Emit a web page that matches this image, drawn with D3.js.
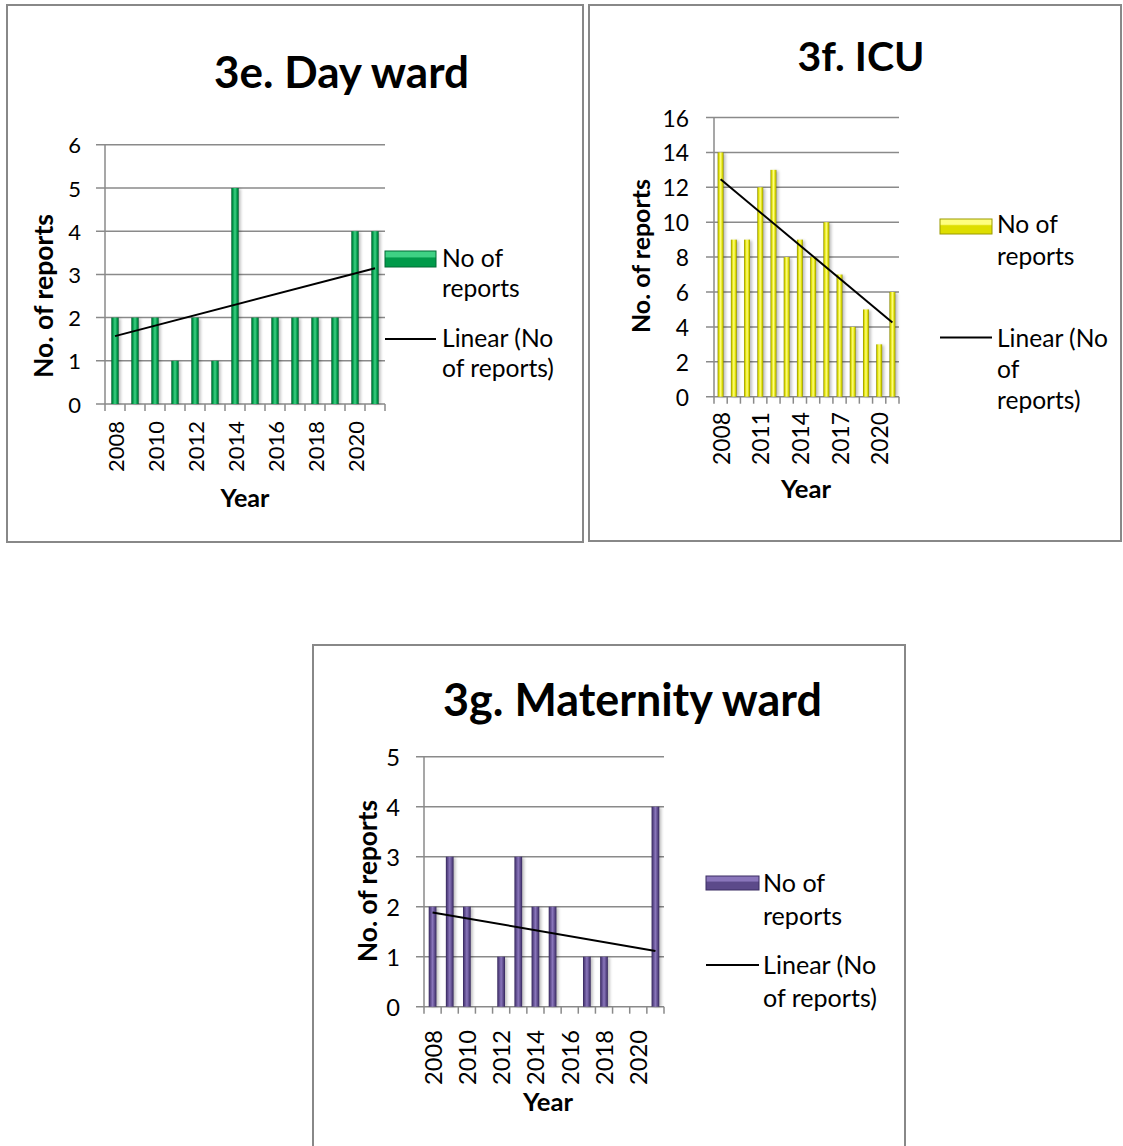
<!DOCTYPE html>
<html><head><meta charset="utf-8">
<script src="https://cdn.jsdelivr.net/npm/d3@7"></script>
<style>body{margin:0;background:#fff} svg{display:block}</style>
</head><body>
<script>
// ---------------- DATA ----------------
const years = ["2008","2009","2010","2011","2012","2013","2014","2015","2016","2017","2018","2019","2020","2021"];
const dayWardReports   = [2,2,2,1,2,1,5,2,2,2,2,2,4,4];
const icuReports       = [14,9,9,12,13,8,9,8,10,7,4,5,3,6];
const maternityReports = [2,3,2,0,1,3,2,2,0,1,1,0,0,4];

const dayWardYTicks   = [0,1,2,3,4,5,6];
const icuYTicks       = [0,2,4,6,8,10,12,14,16];
const maternityYTicks = [0,1,2,3,4,5];

const dayWardXTickLabels   = ["2008","2010","2012","2014","2016","2018","2020"];
const icuXTickLabels       = ["2008","2011","2014","2017","2020"];
const maternityXTickLabels = ["2008","2010","2012","2014","2016","2018","2020"];

const chartTitles = ["3e. Day ward","3f. ICU","3g. Maternity ward"];
const yAxisTitle = "No. of reports";
const xAxisTitle = "Year";
const barLegendLines = ["No of","reports"];
const lineLegendLinesWide = ["Linear (No","of reports)"];
const lineLegendLinesNarrow = ["Linear (No","of","reports)"];

// ---------------- LAYOUT ----------------
const FONT = "Lato, 'Open Sans', sans-serif";
const charts = [
  {
    id:"e", titleText:chartTitles[0], values:dayWardReports, yTicks:dayWardYTicks, xLabels:dayWardXTickLabels,
    panel:{x:7,y:5,w:576,h:537},
    plot:{left:105,right:385,top:144.8,bottom:404,gridLeft:96},
    barFrac:0.37,
    colors:{dark:"#005a2b",mid:"#009a4a",light:"#3fd184",stroke:"#006b35"},
    titlePos:{cx:341.5,base:88,w:255},
    yTitle:{cx:43,cy:296,w:164},
    yLabelRight:81, tickFont:{w:51},
    xLabelTop:421,
    xTitle:{cx:245,base:507,w:49},
    legend:{sx:385,sy:251,sw:51,sh:16,tx:442,bar:[266.5,296.5],lineY:339,line:[346.5,376.5],
            lineLines:lineLegendLinesWide, fitText:"of reports)", fitW:112}
  },
  {
    id:"f", titleText:chartTitles[1], values:icuReports, yTicks:icuYTicks, xLabels:icuXTickLabels,
    panel:{x:589,y:5,w:532,h:536},
    plot:{left:714,right:899,top:117.5,bottom:396.7,gridLeft:706},
    barFrac:0.45,
    colors:{dark:"#8a8a00",mid:"#dede00",light:"#ffff80",stroke:"#9a9a00"},
    titlePos:{cx:861,base:71,w:127},
    yTitle:{cx:640,cy:256,w:154},
    yLabelRight:689, tickFont:{w:53},
    xLabelTop:412,
    xTitle:{cx:806,base:498,w:50},
    legend:{sx:940,sy:219,sw:52,sh:15,tx:997,bar:[233,265],lineY:337.5,line:[346.5,377.5,408.5],
            lineLines:lineLegendLinesNarrow, fitText:"Linear (No", fitW:111}
  },
  {
    id:"g", titleText:chartTitles[2], values:maternityReports, yTicks:maternityYTicks, xLabels:maternityXTickLabels,
    panel:{x:313,y:645,w:592,h:520},
    plot:{left:424,right:664,top:756.7,bottom:1006.7,gridLeft:416},
    barFrac:0.45,
    colors:{dark:"#33245a",mid:"#5c4a8a",light:"#8a76bb",stroke:"#3b2c63"},
    titlePos:{cx:632.5,base:716,w:379},
    yTitle:{cx:367,cy:881,w:162},
    yLabelRight:400, tickFont:{w:55},
    xLabelTop:1030,
    xTitle:{cx:548,base:1111,w:50},
    legend:{sx:706,sy:876,sw:53,sh:14,tx:763,bar:[891.5,924.5],lineY:965,line:[973.5,1006.5],
            lineLines:lineLegendLinesWide, fitText:"of reports)", fitW:114}
  }
];

// ---------------- DRAW ----------------
const svg = d3.select("body").append("svg").attr("width",1123).attr("height",1146);
svg.append("rect").attr("width",1123).attr("height",1146).attr("fill","#fff");
const defs = svg.append("defs");
defs.append("filter").attr("id","shadow").attr("x","-50%").attr("y","-10%").attr("width","200%").attr("height","120%")
  .append("feGaussianBlur").attr("stdDeviation",1.4);

function fitSize(text, weight, target){
  const t = svg.append("text").attr("font-family",FONT).attr("font-weight",weight)
    .attr("font-size",100).text(text);
  const w = t.node().getComputedTextLength();
  t.remove();
  return 100*target/w;
}

function regression(vals){
  const n = vals.length;
  const xm = (n-1)/2, ym = d3.mean(vals);
  let sxy=0, sxx=0;
  vals.forEach((v,i)=>{sxy+=(i-xm)*(v-ym); sxx+=(i-xm)*(i-xm);});
  const b = sxy/sxx, a = ym - b*xm;
  return i => a + b*i;
}

charts.forEach(c=>{
  const g = svg.append("g");
  const P = c.plot;
  g.append("rect").attr("x",c.panel.x).attr("y",c.panel.y).attr("width",c.panel.w).attr("height",c.panel.h)
    .attr("fill","none").attr("stroke","#888").attr("stroke-width",2);

  const gid = "bar"+c.id;
  const lg = defs.append("linearGradient").attr("id",gid).attr("x1","0").attr("x2","1").attr("y1","0").attr("y2","0");
  [[0,c.colors.dark],[0.22,c.colors.mid],[0.5,c.colors.light],[0.78,c.colors.mid],[1,c.colors.dark]]
    .forEach(([o,col])=>lg.append("stop").attr("offset",o).attr("stop-color",col));
  const sid = "sw"+c.id;
  const sg = defs.append("linearGradient").attr("id",sid).attr("x1","0").attr("x2","0").attr("y1","0").attr("y2","1");
  [[0,c.colors.light],[0.35,c.colors.light],[0.45,c.colors.mid],[1,c.colors.mid]]
    .forEach(([o,col])=>sg.append("stop").attr("offset",o).attr("stop-color",col));

  const yMax = d3.max(c.yTicks);
  const y = d3.scaleLinear().domain([0,yMax]).range([P.bottom,P.top]);
  const xStep = d3.scaleBand().domain(years).range([P.left,P.right]).padding(0);
  const step = xStep.step();
  const x = d3.scaleBand().domain(years).range([P.left,P.right])
    .paddingInner(1-c.barFrac).paddingOuter((1-c.barFrac)/2);

  g.append("g").selectAll("line").data(c.yTicks).join("line")
    .attr("x1",P.gridLeft).attr("x2",P.right).attr("y1",d=>y(d)).attr("y2",d=>y(d))
    .attr("stroke","#8a8a8a").attr("stroke-width",1.5);
  g.append("line").attr("x1",P.left).attr("x2",P.left).attr("y1",P.top).attr("y2",P.bottom)
    .attr("stroke","#8a8a8a").attr("stroke-width",1.5);
  const bounds = d3.range(years.length+1).map(i=>P.left+i*step);
  g.append("g").selectAll("line").data(bounds).join("line")
    .attr("x1",d=>d).attr("x2",d=>d).attr("y1",P.bottom).attr("y2",P.bottom+7)
    .attr("stroke","#8a8a8a").attr("stroke-width",1.5);

  const data = years.map((yr,i)=>({yr, v:c.values[i]})).filter(d=>d.v>0);
  g.append("g").selectAll("rect").data(data).join("rect")
    .attr("x",d=>x(d.yr)+2).attr("y",d=>y(d.v)+1).attr("width",x.bandwidth())
    .attr("height",d=>P.bottom-y(d.v)-1).attr("fill","#000").attr("opacity",0.25).attr("filter","url(#shadow)");
  g.append("g").selectAll("rect").data(data).join("rect")
    .attr("x",d=>x(d.yr)).attr("y",d=>y(d.v)).attr("width",x.bandwidth())
    .attr("height",d=>P.bottom-y(d.v)).attr("fill",`url(#${gid})`);

  const f = regression(c.values);
  const n = years.length;
  g.append("line")
    .attr("x1",xStep(years[0])+step/2).attr("y1",y(f(0)))
    .attr("x2",xStep(years[n-1])+step/2).attr("y2",y(f(n-1)))
    .attr("stroke","#000").attr("stroke-width",2);

  const tickSize = fitSize("2008",400,c.tickFont.w);
  g.append("g").selectAll("text").data(c.yTicks).join("text")
    .attr("x",c.yLabelRight).attr("y",d=>y(d)).attr("text-anchor","end").attr("dominant-baseline","central")
    .attr("font-family",FONT).attr("font-size",tickSize).attr("fill","#000").text(d=>d);

  g.append("g").selectAll("text").data(c.xLabels).join("text")
    .attr("transform",d=>`translate(${xStep(d)+step/2},${c.xLabelTop}) rotate(-90)`)
    .attr("text-anchor","end").attr("dominant-baseline","central")
    .attr("font-family",FONT).attr("font-size",tickSize).attr("fill","#000").text(d=>d);

  g.append("text").attr("x",c.titlePos.cx).attr("y",c.titlePos.base).attr("text-anchor","middle")
    .attr("font-family",FONT).attr("font-weight",700).attr("font-size",fitSize(c.titleText,700,c.titlePos.w))
    .text(c.titleText);
  g.append("text").attr("transform",`translate(${c.yTitle.cx},${c.yTitle.cy}) rotate(-90)`)
    .attr("text-anchor","middle").attr("dominant-baseline","central")
    .attr("font-family",FONT).attr("font-weight",700).attr("font-size",fitSize(yAxisTitle,700,c.yTitle.w))
    .text(yAxisTitle);
  g.append("text").attr("x",c.xTitle.cx).attr("y",c.xTitle.base).attr("text-anchor","middle")
    .attr("font-family",FONT).attr("font-weight",700).attr("font-size",fitSize(xAxisTitle,700,c.xTitle.w))
    .text(xAxisTitle);

  const L = c.legend;
  const lsize = fitSize(L.fitText,400,L.fitW);
  g.append("rect").attr("x",L.sx).attr("y",L.sy).attr("width",L.sw).attr("height",L.sh)
    .attr("fill",`url(#${sid})`).attr("stroke",c.colors.stroke).attr("stroke-width",1);
  g.append("g").selectAll("text").data(barLegendLines).join("text")
    .attr("x",L.tx).attr("y",(d,i)=>L.bar[i]).attr("font-family",FONT).attr("font-size",lsize).text(d=>d);
  g.append("line").attr("x1",L.sx).attr("x2",L.sx+L.sw).attr("y1",L.lineY).attr("y2",L.lineY)
    .attr("stroke","#000").attr("stroke-width",2);
  g.append("g").selectAll("text").data(L.lineLines).join("text")
    .attr("x",L.tx).attr("y",(d,i)=>L.line[i]).attr("font-family",FONT).attr("font-size",lsize).text(d=>d);
});
</script>
</body></html>
